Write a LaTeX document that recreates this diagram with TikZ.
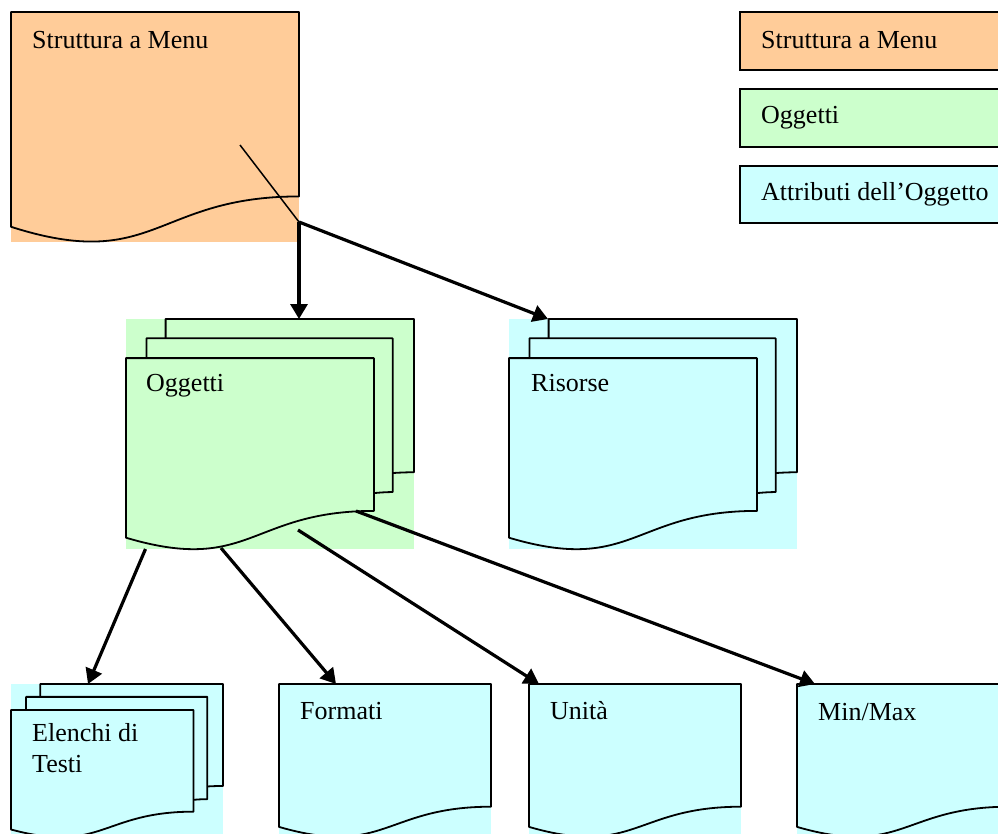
\documentclass[tikz,border=0pt]{standalone}
\usepackage{fontspec}
\setmainfont{Liberation Serif}
\usetikzlibrary{arrows.meta}
\definecolor{menuorange}{HTML}{FFCC99}
\definecolor{objgreen}{HTML}{CCFFCC}
\definecolor{attrcyan}{HTML}{CCFFFF}
\tikzset{
  shapeline/.style={draw=black,line width=1.8pt,line join=round},
  conn/.style={draw=black,line width=3.2pt,-{Triangle[length=15pt,width=17pt]}},
  thinconn/.style={draw=black,line width=1.5pt},
  lbl/.style={anchor=base west,inner sep=0pt,font=\fontsize{26}{31.6}\selectfont},
  legendbox/.style={draw=black,line width=1.9pt},
}
% single document shape: x0,y0,W,H,colour
\newcommand\docshp[5]{%
  \fill[#5] (#1,#2) rectangle ++(#3,#4);
  \begin{scope}[shift={(#1,#2)},xscale=#3/216,yscale=#4/216]
    \draw[shapeline] (0,0) -- (216,0) -- (216,173.22)
      .. controls (108,173.22) and (108,245) .. (0,201.72) -- cycle;
  \end{scope}}
% multi document shape: x0,y0,W,H,colour
\newcommand\multidocshp[5]{%
  \fill[#5] (#1,#2) rectangle ++(#3,#4);
  \begin{scope}[shift={(#1,#2)},xscale=#3/216,yscale=#4/216]
    \draw[shapeline] (29.72,18.15) -- (29.72,0) -- (216,0) -- (216,143.92)
      .. controls (208,143.92) and (200,144.67) .. (200,144.67);
    \draw[shapeline] (15.32,36.75) -- (15.32,18.15) -- (200,18.15) -- (200,162.52)
      .. controls (192.98,162.52) and (185.95,163.52) .. (185.95,163.52);
    \draw[shapeline] (0,36.75) -- (185.95,36.75) -- (185.95,180.22)
      .. controls (92.98,180.22) and (92.98,240) .. (0,205.4) -- cycle;
  \end{scope}}
\begin{document}
\begin{tikzpicture}[x=1pt,y=-1pt]
\clip (0,0) rectangle (998,833);
\fill[white] (0,0) rectangle (998,833);

% shapes
\docshp{11}{12}{288}{230}{menuorange}
\multidocshp{126}{319}{288}{230}{objgreen}
\multidocshp{509}{319}{288}{230}{attrcyan}
\multidocshp{11}{684}{212}{153}{attrcyan}
\docshp{279}{684}{212}{153}{attrcyan}
\docshp{529}{684}{212}{153}{attrcyan}
\docshp{797}{684}{212}{153}{attrcyan}

% legend
\filldraw[legendbox,fill=menuorange] (740,12) rectangle (1010,70);
\filldraw[legendbox,fill=objgreen] (740,89) rectangle (1010,147);
\filldraw[legendbox,fill=attrcyan] (740,166) rectangle (1010,223);

% labels
\node[lbl] (menu) at (32,48) {Struttura a Menu};
\node[lbl] (oggetti) at (146,391) {Oggetti};
\node[lbl] (risorse) at (531,391) {Risorse};
\node[lbl] (elenchi) at (32,741) {\begin{tabular}[t]{@{}l@{}}Elenchi di\\Testi\end{tabular}};
\node[lbl] (formati) at (300,719.5) {Formati};
\node[lbl] (unita) at (550,719.5) {Unità};
\node[lbl] (minmax) at (818,720) {Min/Max};
\node[lbl] (legmenu) at (761,48) {Struttura a Menu};
\node[lbl] (legogg) at (761,123.5) {Oggetti};
\node[lbl] (legattr) at (761,200) {Attributi dell’Oggetto};

% connector points
\coordinate (menuIn) at (240,145);
\coordinate (junc) at (299,222);
\coordinate (oggTop) at (299,319);
\coordinate (risTop) at (548,319);
\coordinate (oggA) at (145.5,549);
\coordinate (oggB) at (221,548);
\coordinate (oggC) at (298,530);
\coordinate (oggD) at (356,511);
\coordinate (eleTop) at (88,684);
\coordinate (forTop) at (336,684);
\coordinate (uniTop) at (539,684);
\coordinate (minTop) at (815,684);

% connectors
\draw[thinconn] (menuIn) -- (junc);
\draw[conn] (junc) -- (oggTop);
\draw[conn] (junc) -- (risTop);
\draw[conn] (oggA) -- (eleTop);
\draw[conn] (oggB) -- (forTop);
\draw[conn] (oggC) -- (uniTop);
\draw[conn] (oggD) -- (minTop);
\end{tikzpicture}
\end{document}
